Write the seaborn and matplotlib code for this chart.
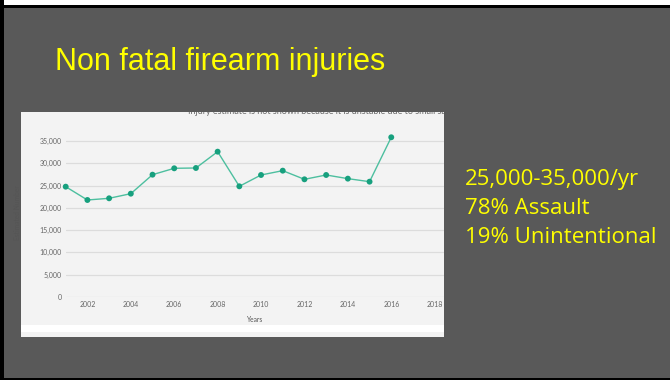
import pandas as pd
import matplotlib.pyplot as plt
from matplotlib.patches import Rectangle
import seaborn as sns

# values
years = [2001, 2002, 2003, 2004, 2005, 2006, 2007, 2008,
         2009, 2010, 2011, 2012, 2013, 2014, 2015, 2016]
injuries = [24750, 21760, 22140, 23180, 27440, 28870, 28940, 32600,
            24830, 27370, 28340, 26400, 27370, 26550, 25870, 35830]
y_ticks = [0, 5000, 10000, 15000, 20000, 25000, 30000, 35000]
x_ticks = [2002, 2004, 2006, 2008, 2010, 2012, 2014, 2016, 2018]
title = 'Non fatal firearm injuries'
caption = 'Injury estimate is not shown because it is unstable due to small sample si'
notes = ['25,000-35,000/yr', '78% Assault', '19% Unintentional']


def px(x0, y0, x1, y1, W=670, H=380):
    """pixel box (top-left origin) -> figure fraction rect"""
    return [x0 / W, (H - y1) / H, (x1 - x0) / W, (y1 - y0) / H]


def main():
    sns.set_style('white')
    plt.rcParams['font.family'] = ['Lato', 'DejaVu Sans']

    fig = plt.figure(figsize=(6.7, 3.8), dpi=100, facecolor='#595959')

    # slide frame
    fig.patches.append(Rectangle((0, 1 - 5 / 380), 1, 5 / 380, transform=fig.transFigure,
                                 facecolor='white', edgecolor='none'))
    fig.patches.append(Rectangle((0, 1 - 8 / 380), 1, 3 / 380, transform=fig.transFigure,
                                 facecolor='black', edgecolor='none'))
    fig.patches.append(Rectangle((0, 0), 4 / 670, 1, transform=fig.transFigure,
                                 facecolor='black', edgecolor='none'))
    fig.patches.append(Rectangle((0, 0), 1, 2 / 380, transform=fig.transFigure,
                                 facecolor='black', edgecolor='none'))

    fig.text(55 / 670, 1 - 62 / 380, title, color='#ffff00', fontsize=22,
             va='center', ha='left', family=['Liberation Sans'])

    for i, line in enumerate(notes):
        fig.text(465 / 670, 1 - (179 + 29 * i) / 380, line, color='#ffff00',
                 fontsize=16, va='center', ha='left', family=['Open Sans', 'DejaVu Sans'])

    # the pasted chart image
    img = fig.add_axes(px(21, 112, 444, 337))
    img.set_facecolor('#f3f3f3')
    img.set_xticks([])
    img.set_yticks([])
    for s in img.spines.values():
        s.set_visible(False)
    img.add_patch(Rectangle((0, 5 / 225), 1, 7 / 225, transform=img.transAxes,
                            facecolor='white', edgecolor='none'))
    img.text(167 / 423, 1 + 0.8 / 225, caption, transform=img.transAxes, fontsize=6.5,
             color='#6a6a6a', ha='left', va='center', clip_on=True)

    ax = fig.add_axes(px(65.7, 127.6, 444, 297))
    ax.set_facecolor('none')
    df = pd.DataFrame({'Years': years, 'Estimated Number': injuries})
    sns.lineplot(data=df, x='Years', y='Estimated Number', ax=ax,
                 color='#4dbf9f', linewidth=1.0)
    sns.scatterplot(data=df, x='Years', y='Estimated Number', ax=ax,
                    color='#17a07e', s=18, edgecolor='none', zorder=5, clip_on=False)

    ax.set_xlim(2001, 2018.43)
    ax.set_ylim(0, 38000)
    ax.set_yticks(y_ticks)
    ax.set_yticklabels(['{:,}'.format(v) for v in y_ticks])
    ax.set_xticks(x_ticks)
    ax.set_xticklabels([str(v) for v in x_ticks])
    ax.tick_params(axis='both', labelsize=5, labelcolor='#666666', length=0, pad=3)
    ax.yaxis.grid(True, color='#dcdcdc', linewidth=0.9)
    ax.xaxis.grid(False)
    for s in ax.spines.values():
        s.set_visible(False)
    ax.set_xlabel('Years', fontsize=4.8, color='#555555', labelpad=6)
    ax.set_ylabel('Estimated Number', fontsize=4.8, color='#555555', labelpad=13)

    fig.savefig('out.png', dpi=100, facecolor=fig.get_facecolor())


if __name__ == '__main__':
    main()
